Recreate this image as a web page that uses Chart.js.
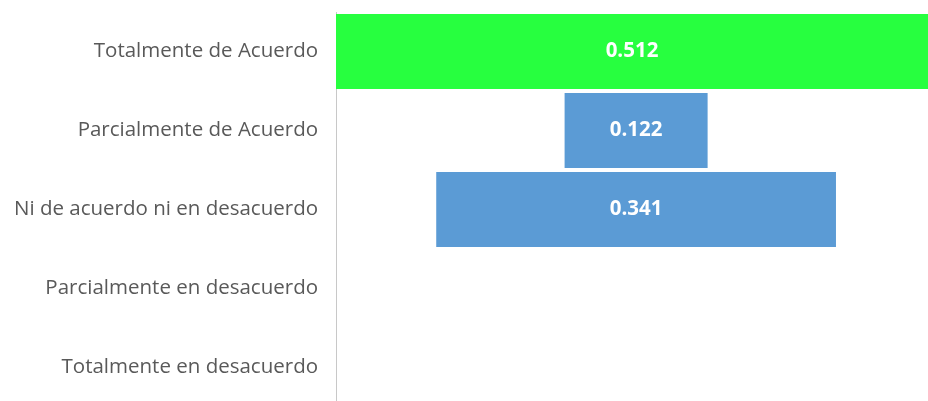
<!DOCTYPE html>
<html>
<head>
<meta charset="utf-8">
<script src="https://cdn.jsdelivr.net/npm/chart.js@4"></script>
<style>
  html, body { margin: 0; padding: 0; background: #ffffff; overflow: hidden; }
  #wrap { width: 928px; height: 407px; }
</style>
</head>
<body>
<div id="wrap"><canvas id="funnelChart"></canvas></div>
<script>
// Respuestas (proporción)
const categorias = [
    'Totalmente de Acuerdo',
    'Parcialmente de Acuerdo',
    'Ni de acuerdo ni en desacuerdo',
    'Parcialmente en desacuerdo',
    'Totalmente en desacuerdo'
];
const valores = [0.512, 0.122, 0.341, 0, 0];
const colores = ['#27ff3f', '#5b9bd5', '#5b9bd5', '#5b9bd5', '#5b9bd5'];

// centro del embudo
const centro = 0.256;
const rangos = valores.map(v => [centro - v / 2, centro + v / 2]);

// etiquetas de valor dentro de las barras
const etiquetas = {
    id: 'etiquetas',
    afterDatasetsDraw(chart) {
        const ctx = chart.ctx;
        const meta = chart.getDatasetMeta(0);
        ctx.save();
        ctx.fillStyle = '#ffffff';
        ctx.font = 'bold 20.5px "Open Sans"';
        ctx.textAlign = 'center';
        ctx.textBaseline = 'middle';
        meta.data.forEach((bar, i) => {
            if (!valores[i]) return;
            const cx = (Math.max(bar.base, chart.chartArea.left) + Math.min(bar.x, chart.chartArea.right)) / 2;
            ctx.fillText(valores[i].toFixed(3), cx, bar.y);
        });
        ctx.restore();
    }
};

document.addEventListener('DOMContentLoaded', () => {
    new Chart(document.getElementById('funnelChart'), {
        type: 'bar',
        data: {
            labels: categorias,
            datasets: [{
                data: rangos,
                backgroundColor: colores,
                borderWidth: 0,
                borderSkipped: false,
                categoryPercentage: 1,
                barPercentage: 0.95
            }]
        },
        options: {
            indexAxis: 'y',
            responsive: true,
            maintainAspectRatio: false,
            animation: false,
            layout: { padding: { top: 12, left: 0, right: 0, bottom: 0 } },
            plugins: {
                legend: { display: false },
                tooltip: { enabled: false }
            },
            scales: {
                x: {
                    display: false,
                    min: 0,
                    max: 0.505
                },
                y: {
                    afterFit(scale) {
                        scale.width = 336;
                        scale.paddingTop = 0;
                        scale.paddingBottom = 0;
                    },
                    grid: { display: false, drawTicks: false },
                    border: { display: true, color: '#c8c8c8', width: 1 },
                    ticks: {
                        padding: 18,
                        color: '#595959',
                        font: { family: '"Open Sans"', size: 20.5 }
                    }
                }
            }
        },
        plugins: [etiquetas]
    });
});
</script>
</body>
</html>
